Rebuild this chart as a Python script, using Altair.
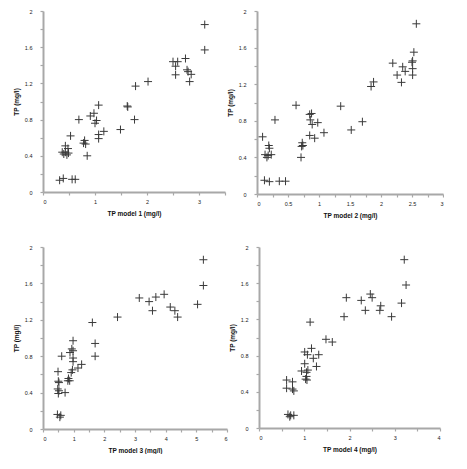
import altair as alt
import pandas as pd

# Panel 1: TP model 1 vs observed TP
x1 = [3.11, 3.11, 2.74, 2.50, 2.59, 2.55, 2.77, 2.79, 2.85, 2.55, 2.82, 2.02, 1.78, 1.63, 1.76, 1.49,
      1.07, 0.98, 0.91, 0.69, 1.03, 1.00, 1.17, 1.07, 1.07, 0.53, 0.80, 0.82, 0.78, 0.85, 0.43, 0.48,
      0.37, 0.43, 0.49, 0.40, 0.46, 0.32, 0.39, 0.56, 0.62, 1.62]
y1 = [1.85, 1.57, 1.475, 1.44, 1.44, 1.39, 1.35, 1.33, 1.30, 1.295, 1.22, 1.22, 1.17, 0.94, 0.80, 0.69,
      0.96, 0.87, 0.84, 0.80, 0.79, 0.76, 0.67, 0.635, 0.59, 0.62, 0.57, 0.53, 0.54, 0.40, 0.51, 0.48,
      0.44, 0.44, 0.43, 0.42, 0.41, 0.13, 0.15, 0.14, 0.14, 0.95]

# Panel 2
x2 = [2.57, 2.53, 2.51, 2.50, 2.19, 2.35, 2.39, 2.51, 2.26, 2.51, 2.33, 1.88, 1.84, 0.63, 1.35, 1.70,
      1.52, 0.29, 0.09, 0.85, 0.88, 0.86, 0.89, 0.98, 1.08, 0.85, 0.93, 0.73, 0.74, 0.72, 0.71, 0.19,
      0.20, 0.13, 0.18, 0.23, 0.16, 0.12, 0.20, 0.36, 0.46]
y2 = [1.86, 1.55, 1.455, 1.44, 1.43, 1.39, 1.34, 1.37, 1.30, 1.30, 1.22, 1.225, 1.175, 0.97, 0.96, 0.79,
      0.70, 0.81, 0.625, 0.87, 0.88, 0.81, 0.76, 0.78, 0.67, 0.64, 0.61, 0.56, 0.53, 0.52, 0.40, 0.53,
      0.50, 0.43, 0.42, 0.43, 0.40, 0.15, 0.135, 0.14, 0.14]

# Panel 3
x3 = [5.23, 5.23, 5.04, 3.14, 3.46, 3.68, 3.95, 3.57, 4.15, 4.30, 4.39, 2.43, 1.61, 1.70, 1.70, 0.98,
      0.94, 0.98, 0.88, 0.61, 0.98, 0.98, 1.26, 1.14, 0.96, 0.92, 0.49, 0.83, 0.81, 0.87, 0.50, 0.52,
      0.48, 0.52, 0.50, 0.72, 0.47, 0.58, 0.55]
y3 = [1.86, 1.577, 1.37, 1.44, 1.40, 1.45, 1.48, 1.30, 1.34, 1.30, 1.23, 1.23, 1.17, 0.94, 0.80, 0.97,
      0.88, 0.86, 0.84, 0.80, 0.78, 0.74, 0.71, 0.67, 0.65, 0.62, 0.63, 0.555, 0.53, 0.53, 0.525, 0.51,
      0.44, 0.42, 0.39, 0.40, 0.16, 0.15, 0.13]

# Panel 4
x4 = [3.21, 3.25, 3.15, 2.93, 2.69, 2.67, 2.50, 2.46, 2.26, 2.35, 1.93, 1.88, 1.48, 1.62, 1.13, 1.16,
      1.01, 1.07, 1.20, 1.32, 1.01, 1.08, 1.05, 0.94, 1.27, 1.05, 1.06, 1.03, 0.61, 0.74, 0.61, 0.74,
      0.77, 0.64, 0.70, 0.77, 0.68]
y4 = [1.86, 1.58, 1.38, 1.23, 1.35, 1.30, 1.44, 1.48, 1.41, 1.30, 1.44, 1.23, 0.98, 0.95, 1.17, 0.88,
      0.84, 0.81, 0.77, 0.81, 0.71, 0.64, 0.615, 0.63, 0.68, 0.57, 0.53, 0.54, 0.53, 0.51, 0.44, 0.43,
      0.41, 0.15, 0.14, 0.14, 0.125]

y_ticks = [0, 0.2, 0.4, 0.6, 0.8, 1.0, 1.2, 1.4, 1.6, 1.8, 2.0]

FONT = "Liberation Sans"
AXIS_GRAY = "#a8a8a8"


def panel(xs, ys, title, xmax, xstep, label_every, w, h):
    df = pd.DataFrame({"x": xs, "y": ys})
    n = int(round(xmax / xstep))
    xticks = [round(i * xstep, 4) for i in range(n + 1)]
    common = dict(
        domainColor=AXIS_GRAY, domainWidth=2, tickColor=AXIS_GRAY, tickWidth=1.2, tickSize=3,
        labelFont=FONT, labelFontSize=5.5, labelColor="#222", titleFont=FONT, titleFontSize=6.5,
        titleFontWeight="bold", titleColor="#111", grid=False, labelOverlap=False,
    )
    xaxis = alt.Axis(
        values=xticks, title=title, labelPadding=4, titlePadding=6,
        labelExpr=f"round(datum.value / {xstep}) % {label_every} == 0 ? format(datum.value, '~g') : ''",
        **common,
    )
    yaxis = alt.Axis(
        values=y_ticks, title="TP (mg/l)", labelPadding=8, titlePadding=5,
        labelExpr="round(datum.value * 10) % 4 == 0 ? format(datum.value, '~g') : ''",
        **common,
    )
    return alt.Chart(df).mark_point(
        shape="M-1,0L1,0M0,-1L0,1", size=64, filled=False, stroke="#3a3a3a", strokeWidth=1, opacity=1
    ).encode(
        x=alt.X("x:Q", scale=alt.Scale(domain=[0, xmax], nice=False, zero=False), axis=xaxis),
        y=alt.Y("y:Q", scale=alt.Scale(domain=[0, 2], nice=False), axis=yaxis),
    ).properties(width=w, height=h)


c1 = panel(x1, y1, "TP model 1 (mg/l)", 3.5, 0.5, 2, 182, 181)
c2 = panel(x2, y2, "TP model 2 (mg/l)", 3.0, 0.25, 2, 186, 183)
c3 = panel(x3, y3, "TP model 3 (mg/l)", 6.0, 0.5, 2, 184, 182)
c4 = panel(x4, y4, "TP model 4 (mg/l)", 4.0, 0.5, 2, 181, 181)

chart = alt.vconcat(
    alt.hconcat(c1, c2, spacing=1),
    alt.hconcat(c3, c4, spacing=1),
    spacing=26,
).properties(
    padding={"left": 5, "top": 1, "right": 0, "bottom": 0},
    background="white",
).configure_view(stroke=None)

chart.save("out.html", embed_options={"renderer": "svg", "actions": False})
